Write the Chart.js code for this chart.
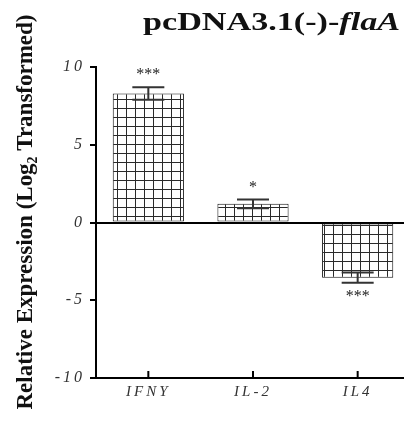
<!DOCTYPE html>
<html>
<head>
<meta charset="utf-8">
<script src="https://cdn.jsdelivr.net/npm/chart.js@4.4.0/dist/chart.umd.min.js"></script>
<style>
  html, body { margin: 0; padding: 0; background: #fff; overflow: hidden; }
  canvas { display: block; }
</style>
</head>
<body>
<canvas id="expressionChart" width="410" height="429"></canvas>
<script>
// chart data
const categories = ['IFNY', 'IL-2', 'IL4'];
const expression = [8.3, 1.2, -3.55];
const errors = [0.4, 0.28, 0.33];
const significance = ['***', '*', '***'];
const yTicks = [10, 5, 0, -5, -10];

// checkered fill for the bars
function makeGrid() {
    const c = document.createElement('canvas');
    c.width = 9;
    c.height = 9;
    const g = c.getContext('2d');
    g.fillStyle = '#fff';
    g.fillRect(0, 0, 9, 9);
    g.fillStyle = '#2a2a2a';
    g.fillRect(0, 0, 1, 9);
    g.fillRect(0, 0, 9, 1);
    return g.createPattern(c, 'repeat');
}

const decor = {
    id: 'decor',
    beforeDraw(chart) {
        // spaced-out tick labels like the original figure
        chart.ctx.letterSpacing = '3px';
    },
    beforeDatasetsDraw(chart) {
        chart.ctx.letterSpacing = '0px';
    },
    afterDatasetsDraw(chart) {
        const ctx = chart.ctx;
        const x = chart.scales.x;
        const y = chart.scales.y;
        const area = chart.chartArea;
        ctx.save();
        ctx.letterSpacing = '0px';

        // error bars
        ctx.strokeStyle = '#333';
        ctx.lineWidth = 2;
        expression.forEach(function(v, i) {
            const cx = x.getPixelForValue(i);
            const hi = y.getPixelForValue(v + errors[i]);
            const lo = y.getPixelForValue(v - errors[i]);
            ctx.beginPath();
            ctx.moveTo(cx, hi); ctx.lineTo(cx, lo);
            ctx.moveTo(cx - 16, hi); ctx.lineTo(cx + 16, hi);
            ctx.moveTo(cx - 16, lo); ctx.lineTo(cx + 16, lo);
            ctx.stroke();
        });

        // significance marks
        ctx.fillStyle = '#222';
        ctx.font = '16px "Liberation Serif"';
        ctx.textAlign = 'center';
        ctx.textBaseline = 'middle';
        significance.forEach(function(s, i) {
            const cx = x.getPixelForValue(i);
            const v = expression[i];
            if (v >= 0) {
                ctx.fillText(s, cx, y.getPixelForValue(v + errors[i]) - 12);
            } else {
                ctx.fillText(s, cx, y.getPixelForValue(v - errors[i]) + 14);
            }
        });

        // inward ticks on the x axis
        ctx.strokeStyle = '#000';
        ctx.lineWidth = 2;
        categories.forEach(function(c, i) {
            const cx = x.getPixelForValue(i);
            ctx.beginPath();
            ctx.moveTo(cx, area.bottom);
            ctx.lineTo(cx, area.bottom - 7);
            ctx.stroke();
        });

        // title with italic gene name
        ctx.fillStyle = '#111';
        ctx.textAlign = 'left';
        ctx.textBaseline = 'alphabetic';
        const part1 = 'pcDNA3.1(-)-';
        const part2 = 'flaA';
        ctx.font = 'bold 26px "Liberation Serif"';
        const w1 = ctx.measureText(part1).width;
        ctx.font = 'italic bold 26px "Liberation Serif"';
        const w2 = ctx.measureText(part2).width;
        ctx.save();
        ctx.translate(143, 30);
        ctx.scale(257 / (w1 + w2), 1);
        ctx.font = 'bold 26px "Liberation Serif"';
        ctx.fillText(part1, 0, 0);
        ctx.font = 'italic bold 26px "Liberation Serif"';
        ctx.fillText(part2, w1, 0);
        ctx.restore();

        // y axis title
        const label = 'Relative Expression (Log\u2082 Transformed)';
        ctx.font = 'bold 24px "Liberation Serif"';
        const lw = ctx.measureText(label).width;
        ctx.save();
        ctx.translate(32, 212);
        ctx.rotate(-Math.PI / 2);
        ctx.scale(395 / lw, 1);
        ctx.textAlign = 'center';
        ctx.textBaseline = 'alphabetic';
        ctx.fillText(label, 0, 0);
        ctx.restore();

        ctx.restore();
    }
};

const ctx1 = document.getElementById('expressionChart').getContext('2d');
const expressionChart = new Chart(ctx1, {
    type: 'bar',
    data: {
        labels: categories,
        datasets: [{
            data: expression,
            backgroundColor: makeGrid(),
            borderColor: '#111',
            borderWidth: 1,
            borderSkipped: false,
            barPercentage: 0.68,
            categoryPercentage: 1
        }]
    },
    options: {
        responsive: false,
        animation: false,
        devicePixelRatio: 1,
        layout: { padding: { top: 67, right: 0, left: 0, bottom: 0 } },
        plugins: {
            legend: { display: false },
            tooltip: { enabled: false }
        },
        scales: {
            x: {
                afterFit: function(scale) { scale.height = 51; },
                grid: { display: false, drawTicks: false },
                border: { color: '#000', width: 2 },
                ticks: {
                    color: '#333',
                    padding: 5,
                    font: { family: 'Liberation Serif', size: 15, style: 'italic' }
                }
            },
            y: {
                min: -10,
                max: 10,
                afterFit: function(scale) { scale.width = 96; },
                afterBuildTicks: function(scale) {
                    scale.ticks = yTicks.map(function(v) { return { value: v }; });
                },
                border: { color: '#000', width: 2 },
                grid: {
                    color: function(c) { return c.tick && c.tick.value === 0 ? '#000' : 'rgba(0,0,0,0)'; },
                    lineWidth: 2,
                    tickColor: '#000',
                    tickWidth: 2,
                    tickLength: 6
                },
                ticks: {
                    color: '#333',
                    padding: 5,
                    font: { family: 'Liberation Serif', size: 16, style: 'italic' }
                }
            }
        }
    },
    plugins: [decor]
});
</script>
</body>
</html>
